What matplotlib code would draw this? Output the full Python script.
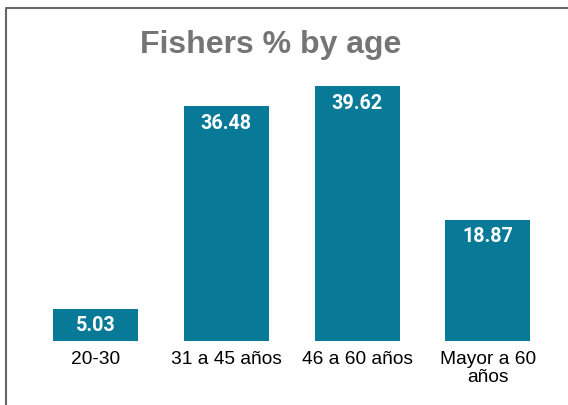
import matplotlib.pyplot as plt
from matplotlib.lines import Line2D

# Share of fishers per age group
categories = ['20-30', '31 a 45 años', '46 a 60 años', 'Mayor a 60\naños']
percentages = [5.03, 36.48, 39.62, 18.87]

bar_color = '#087A97'

fig = plt.figure(figsize=(5.68, 4.06), dpi=100)
fig.patch.set_facecolor('white')

ax = fig.add_axes([0.053, 0.1576, 0.921, 0.713])
x = range(len(categories))
bars = ax.bar(x, percentages, width=0.65, color=bar_color)

# value labels inside the top of each bar
for rect, val in zip(bars, percentages):
    ax.annotate(f'{val:.2f}',
                xy=(rect.get_x() + rect.get_width() / 2, rect.get_height()),
                xytext=(0, -16), textcoords='offset pixels',
                ha='center', va='center', color='white',
                fontsize=14.2, fontweight='bold', family='Roboto')

ax.set_xlim(-0.5, 3.5)
ax.set_ylim(0, 45)
ax.set_xticks(list(x))
ax.set_xticklabels(categories, fontsize=13.8, family='Liberation Sans',
                   linespacing=1.05)
ax.tick_params(axis='x', length=0, pad=6.5)
ax.set_yticks([])
for side in ax.spines.values():
    side.set_visible(False)

fig.text(271 / 568, 1 - 45 / 406, 'Fishers % by age', ha='center', va='center',
         fontsize=23, fontweight='bold', color='#757575', family='Liberation Sans')

# frame on the left and top edges
fig.add_artist(Line2D([6 / 568, 6 / 568, 1.0], [0.0, 1 - 9 / 406, 1 - 9 / 406],
                      transform=fig.transFigure, color='#666666', linewidth=1.5))

fig.savefig('out.png', dpi=100)
